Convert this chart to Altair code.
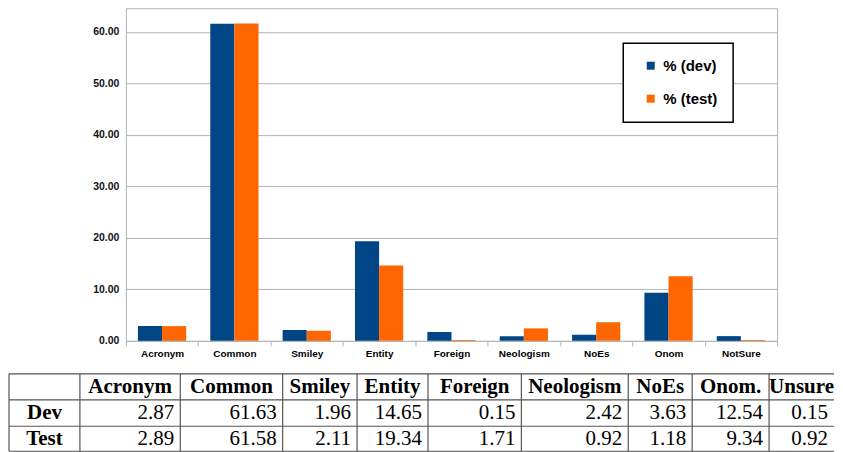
import altair as alt
import pandas as pd

# ---------------- data ----------------
categories = ["Acronym", "Common", "Smiley", "Entity", "Foreign",
              "Neologism", "NoEs", "Onom", "NotSure"]
series_names = ["% (dev)", "% (test)"]
dev_pct = [2.89, 61.58, 2.11, 19.34, 1.71, 0.92, 1.18, 9.34, 0.92]     # blue bars
test_pct = [2.87, 61.63, 1.96, 14.65, 0.15, 2.42, 3.63, 12.54, 0.15]   # orange bars
y_ticks = [0, 10, 20, 30, 40, 50, 60]

table_columns = ["Acronym", "Common", "Smiley", "Entity", "Foreign",
                 "Neologism", "NoEs", "Onom.", "Unsure"]
row_labels = ["Dev", "Test"]
table_dev = [2.87, 61.63, 1.96, 14.65, 0.15, 2.42, 3.63, 12.54, 0.15]
table_test = [2.89, 61.58, 2.11, 19.34, 1.71, 0.92, 1.18, 9.34, 0.92]

# ---------------- layout (table geometry) ----------------
col_widths = [71, 100.5, 102.5, 74.5, 71, 93.5, 107, 64, 77, 65]
row_heights = [26, 26.5, 25]

col_edges = [0]
for w in col_widths:
    col_edges.append(col_edges[-1] + w)
row_edges = [0]
for h in row_heights:
    row_edges.append(row_edges[-1] + h)
total_w = col_edges[-1]
total_h = row_edges[-1]
col_centers = [(col_edges[i] + col_edges[i + 1]) / 2 for i in range(len(col_widths))]
row_centers = [(row_edges[i] + row_edges[i + 1]) / 2 for i in range(len(row_heights))]

# ---------------- bar chart ----------------
bars_df = pd.DataFrame(
    [{"category": c, "series": series_names[0], "value": v} for c, v in zip(categories, dev_pct)]
    + [{"category": c, "series": series_names[1], "value": v} for c, v in zip(categories, test_pct)]
)

SANS = "Liberation Sans"
SERIF = "Liberation Serif"
GRID = "#b3b3b3"

bars = alt.Chart(bars_df).mark_bar().encode(
    x=alt.X("category:N", sort=categories,
            scale=alt.Scale(paddingInner=0, paddingOuter=0),
            axis=alt.Axis(title=None, labelAngle=0, tickBand="extent", tickSize=5,
                          tickColor=GRID, domain=False, grid=False,
                          labelFont=SANS, labelFontWeight="bold", labelFontSize=10,
                          labelColor="black", labelPadding=3)),
    xOffset=alt.XOffset("series:N", sort=series_names,
                        scale=alt.Scale(paddingInner=0, paddingOuter=0.5)),
    y=alt.Y("value:Q", scale=alt.Scale(domain=[0, 64.6], nice=False),
            axis=alt.Axis(title=None, values=y_ticks, format=".2f", ticks=False,
                          domain=False, gridColor=GRID, labelFont=SANS,
                          labelFontWeight="bold", labelFontSize=10.5,
                          labelColor="#111111", labelPadding=7)),
    color=alt.Color("series:N", sort=series_names,
                    scale=alt.Scale(domain=series_names, range=["#004586", "#ff6600"]),
                    legend=alt.Legend(title=None, orient="none", legendX=498, legendY=35,
                                      fillColor="white", strokeColor="black",
                                      padding=15, rowPadding=17, symbolType="square",
                                      symbolSize=64, symbolOffset=5, labelOffset=5,
                                      labelFont=SANS, labelFontWeight="bold",
                                      labelFontSize=15, labelColor="black",
                                      labelExpr="datum.label + '    '")),
)

# ---------------- table ----------------
tx = alt.Scale(domain=[0, total_w], range=[-117, total_w - 117], nice=False, zero=False)
ty = alt.Scale(domain=[0, total_h], range=[366, 366 + total_h], nice=False, zero=False)

hlines_df = pd.DataFrame({"y": row_edges, "x0": [0] * len(row_edges), "x1": [total_w] * len(row_edges)})
vlines_df = pd.DataFrame({"x": col_edges[:-1], "y0": [0] * (len(col_edges) - 1),
                          "y1": [total_h] * (len(col_edges) - 1)})

header_df = pd.DataFrame({"x": col_centers[1:], "y": [row_centers[0]] * len(table_columns),
                          "label": table_columns})
rowlab_df = pd.DataFrame({"x": [col_centers[0]] * 2, "y": row_centers[1:], "label": row_labels})
values_df = pd.DataFrame(
    [{"x": col_edges[i + 2], "y": row_centers[1], "label": f"{v:.2f}"} for i, v in enumerate(table_dev)]
    + [{"x": col_edges[i + 2], "y": row_centers[2], "label": f"{v:.2f}"} for i, v in enumerate(table_test)]
)

LINE = "#555555"
FS = 21
hlines = alt.Chart(hlines_df).mark_rule(color=LINE, strokeWidth=1.2).encode(
    x=alt.X("x0:Q", scale=tx, axis=None), x2="x1:Q",
    y=alt.Y("y:Q", scale=ty, axis=None))
vlines = alt.Chart(vlines_df).mark_rule(color=LINE, strokeWidth=1.2).encode(
    x=alt.X("x:Q", scale=tx, axis=None),
    y=alt.Y("y0:Q", scale=ty, axis=None), y2="y1:Q")
headers = alt.Chart(header_df).mark_text(font=SERIF, fontWeight="bold", fontSize=FS,
                                         align="center", baseline="middle", color="black").encode(
    x=alt.X("x:Q", scale=tx, axis=None), y=alt.Y("y:Q", scale=ty, axis=None), text="label:N")
rowlabs = alt.Chart(rowlab_df).mark_text(font=SERIF, fontWeight="bold", fontSize=FS,
                                         align="center", baseline="middle", color="black").encode(
    x=alt.X("x:Q", scale=tx, axis=None), y=alt.Y("y:Q", scale=ty, axis=None), text="label:N")
values = alt.Chart(values_df).mark_text(font=SERIF, fontSize=FS, align="right", dx=-6,
                                        baseline="middle", color="black").encode(
    x=alt.X("x:Q", scale=tx, axis=None), y=alt.Y("y:Q", scale=ty, axis=None), text="label:N")

chart = alt.layer(bars, hlines, vlines, headers, rowlabs, values).resolve_scale(
    x="independent", y="independent"
).properties(
    width=652, height=333, padding=0, background="white"
).configure_view(stroke=GRID, strokeWidth=1).configure_legend(strokeWidth=1.5)

chart.save("out.html", embed_options={"renderer": "svg", "actions": False})
